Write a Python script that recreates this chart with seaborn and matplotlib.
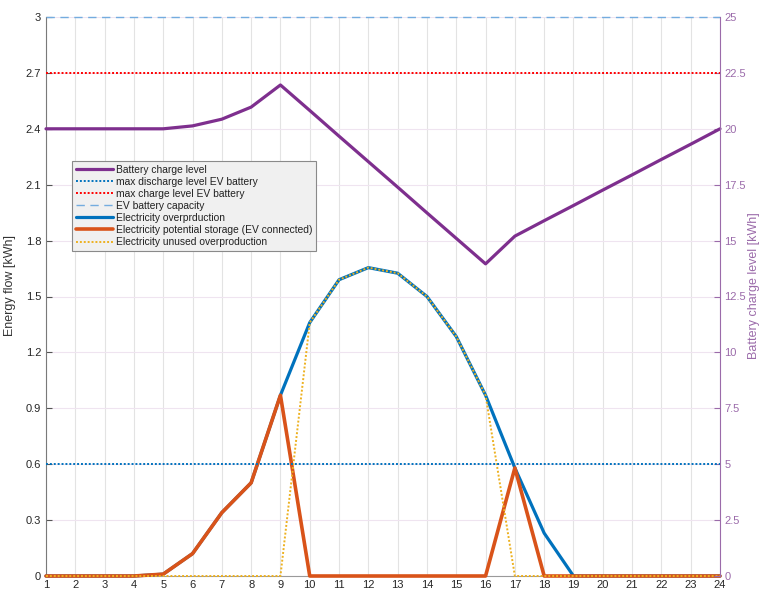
import numpy as np
import pandas as pd
import matplotlib
matplotlib.use("Agg")
import matplotlib.pyplot as plt
import seaborn as sns

# ---------------- data ----------------
hours = list(range(1, 25))
battery_level = [20, 20, 20, 20, 20, 20.13, 20.43, 20.97, 21.96, 20.82, 19.67, 18.53,
                 17.39, 16.24, 15.10, 13.96, 15.20, 15.89, 16.57, 17.26, 17.94, 18.63, 19.31, 20.0]
max_discharge = [5] * 24
max_charge = [22.5] * 24
ev_capacity = [25] * 24
overproduction = [0, 0, 0, 0, 0.01, 0.12, 0.34, 0.50, 0.97, 1.36, 1.59, 1.655,
                  1.625, 1.50, 1.285, 0.97, 0.58, 0.23, 0, 0, 0, 0, 0, 0]
potential_storage = [0, 0, 0, 0, 0.01, 0.12, 0.34, 0.50, 0.97, 0, 0, 0,
                     0, 0, 0, 0, 0.58, 0, 0, 0, 0, 0, 0, 0]
unused_overproduction = [0, 0, 0, 0, 0, 0, 0, 0, 0, 1.36, 1.59, 1.655,
                         1.625, 1.50, 1.285, 0.97, 0, 0, 0, 0, 0, 0, 0, 0]
left_ticks = [0, 0.3, 0.6, 0.9, 1.2, 1.5, 1.8, 2.1, 2.4, 2.7, 3]
left_ticklabels = ["0", "0.3", "0.6", "0.9", "1.2", "1.5", "1.8", "2.1", "2.4", "2.7", "3"]
right_ticks = [0, 2.5, 5, 7.5, 10, 12.5, 15, 17.5, 20, 22.5, 25]
right_ticklabels = ["0", "2.5", "5", "7.5", "10", "12.5", "15", "17.5", "20", "22.5", "25"]

labels = ["Battery charge level", "max discharge level EV battery", "max charge level EV battery",
          "EV battery capacity", "Electricity overprduction",
          "Electricity potential storage (EV connected)", "Electricity unused overproduction"]

# ---------------- style ----------------
sns.set_style("white")
plt.rcParams["font.family"] = ["Liberation Sans", "DejaVu Sans"]

PURPLE = "#7E2F8E"
BLUE = "#0072BD"
ORANGE = "#D95319"
YELLOW = "#EDB120"
RED = "#FF0000"
LIGHTBLUE = "#74ACDF"
AXPURPLE = "#9B6BAA"

fig = plt.figure(figsize=(7.62, 5.92), dpi=100)
ax = fig.add_axes([46 / 762, 16 / 592, 674 / 762, 559 / 592])
ax2 = ax.twinx()

dot = (0, (1, 1))

# left axis: energy flows
l5 = sns.lineplot(x=hours, y=overproduction, ax=ax, color=BLUE, linewidth=2.3, clip_on=False,
                  zorder=3).get_lines()[-1]
l6 = sns.lineplot(x=hours, y=potential_storage, ax=ax, color=ORANGE, linewidth=2.6, clip_on=False,
                  zorder=4).get_lines()[-1]
l7 = sns.lineplot(x=hours, y=unused_overproduction, ax=ax, color=YELLOW, linewidth=1.4,
                  linestyle=dot, clip_on=False, zorder=5).get_lines()[-1]

# right axis: battery
sns.lineplot(x=hours, y=battery_level, ax=ax2, color=PURPLE, linewidth=2.3, clip_on=False)
sns.lineplot(x=hours, y=max_discharge, ax=ax2, color=BLUE, linewidth=1.4, linestyle=dot)
sns.lineplot(x=hours, y=max_charge, ax=ax2, color=RED, linewidth=1.4, linestyle=dot)
sns.lineplot(x=hours, y=ev_capacity, ax=ax2, color=LIGHTBLUE, linewidth=1.0,
             linestyle=(0, (6, 4)), clip_on=False)
r_lines = ax2.get_lines()

# axes setup
ax.set_xlim(1, 24)
ax.set_ylim(0, 3)
ax2.set_ylim(0, 25)
ax.set_xticks(hours)
ax.set_xticklabels([str(h) for h in hours])
ax.set_yticks(left_ticks)
ax.set_yticklabels(left_ticklabels)
ax2.set_yticks(right_ticks)
ax2.set_yticklabels(right_ticklabels)

ax.grid(True, axis="x", color="#e3e3e3", linewidth=0.8)
ax.grid(True, axis="y", color="#efe4f0", linewidth=0.8)
ax.set_axisbelow(True)

for s in ["top", "right"]:
    ax.spines[s].set_visible(False)
ax.spines["left"].set_color("#7a7a7a")
ax.spines["bottom"].set_color("#9a9a9a")
for s in ["top", "left", "bottom"]:
    ax2.spines[s].set_visible(False)
ax2.spines["right"].set_color(AXPURPLE)

ax.tick_params(axis="both", direction="in", length=4, width=0.8, colors="#555555",
               labelcolor="#262626", labelsize=8)
ax.tick_params(axis="x", pad=3)
ax2.tick_params(axis="y", direction="in", length=4, width=0.8, colors=AXPURPLE,
                labelcolor=AXPURPLE, labelsize=8, pad=3)

ax.set_xlabel("")
ax.set_ylabel("Energy flow [kWh]", fontsize=9, color="#333333")
ax.yaxis.set_label_coords(-0.044, 0.52)
ax2.set_ylabel("Battery charge level [kWh]", fontsize=9, color=AXPURPLE, rotation=90)
ax2.yaxis.set_label_coords(1.042, 0.52)

handles = [r_lines[0], r_lines[1], r_lines[2], r_lines[3], l5, l6, l7]
leg = ax2.legend(handles, labels, loc="upper left", bbox_to_anchor=(0.0386, 0.742),
                 borderaxespad=0, fontsize=7.4, frameon=True, fancybox=False,
                 handlelength=3.6, handletextpad=0.3, labelspacing=0.2,
                 borderpad=0.35, framealpha=1)
leg.get_frame().set_facecolor("#f0f0f0")
leg.get_frame().set_edgecolor("#8a8a8a")
leg.get_frame().set_linewidth(0.8)
for t in leg.get_texts():
    t.set_color("#222222")

fig.savefig("out.png", dpi=100)
